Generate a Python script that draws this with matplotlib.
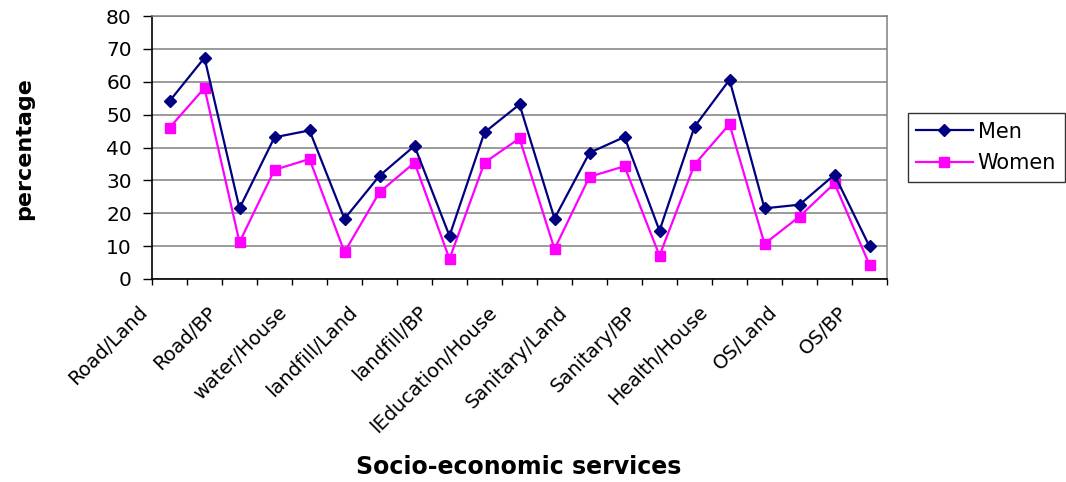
import matplotlib
matplotlib.use("Agg")
import matplotlib.pyplot as plt
import matplotlib.transforms as mtransforms

categories = ["Road/Land", "", "Road/BP", "", "water/House", "", "landfill/Land", "",
              "landfill/BP", "", "lEducation/House", "", "Sanitary/Land", "",
              "Sanitary/BP", "", "Health/House", "", "OS/Land", "", "OS/BP"]
men = [54.1, 67.3, 21.5, 43.1, 45.2, 18.3, 31.4, 40.5, 13.1, 44.6, 53.1,
       18.4, 38.4, 43.2, 14.7, 46.3, 60.6, 21.5, 22.6, 31.7, 9.9]
women = [46.0, 58.1, 11.2, 33.2, 36.5, 8.2, 26.4, 35.4, 6.1, 35.4, 42.8,
         9.1, 31.1, 34.3, 7.1, 34.8, 47.1, 10.7, 19.0, 29.1, 4.3]
yticks = [0, 10, 20, 30, 40, 50, 60, 70, 80]

plt.rcParams['font.family'] = ['DejaVu Sans']

W, H = 1066, 482
fig = plt.figure(figsize=(W / 100, H / 100), dpi=100)
ax = fig.add_axes([152 / W, 1 - 279 / H, (887 - 152) / W, (279 - 16) / H])

x = list(range(len(categories)))
ax.plot(x, men, color='#000080', lw=1.6, marker='D', ms=6.2, label='Men', zorder=4)
ax.plot(x, women, color='#FF00FF', lw=1.6, marker='s', ms=7.8, label='Women', zorder=3)

ax.set_xlim(-0.5, len(categories) - 0.5)
ax.set_ylim(0, 80)
ax.set_yticks(yticks)
ax.set_yticklabels([str(v) for v in yticks])
ax.yaxis.grid(True, color='#808080', lw=1.1)
ax.set_axisbelow(True)

for s in ['left', 'bottom']:
    ax.spines[s].set_color('black')
    ax.spines[s].set_linewidth(1.2)
for s in ['right', 'top']:
    ax.spines[s].set_color('#808080')
    ax.spines[s].set_linewidth(1.1)

ax.tick_params(axis='y', direction='out', length=6.5, width=1.0, color='black',
               labelsize=14.5, pad=8)

# tick marks at category boundaries
ax.set_xticks([i - 0.5 for i in range(len(categories) + 1)], minor=True)
ax.tick_params(axis='x', which='minor', direction='out', length=4.5, width=1.0, color='black')
label_idx = [i for i, c in enumerate(categories) if c]
ax.set_xticks(label_idx)
ax.set_xticklabels([categories[i] for i in label_idx], rotation=45, ha='right',
                   va='top', rotation_mode='anchor')
ax.tick_params(axis='x', which='major', length=0, labelsize=14, pad=17)
offset = mtransforms.ScaledTranslation(-32 / 100, 0, fig.dpi_scale_trans)
for lab in ax.get_xticklabels():
    lab.set_transform(lab.get_transform() + offset)

fig.text(24 / W, 1 - 149 / H, 'percentage', rotation=90, ha='center', va='center',
         fontsize=16, fontweight='bold')
fig.text(519 / W, 1 - 467 / H, 'Socio-economic services', ha='center', va='center',
         fontsize=17, fontweight='bold')

leg = fig.legend(loc='center left', bbox_to_anchor=(908 / W, 1 - 147.5 / H),
                 bbox_transform=fig.transFigure, fontsize=15, frameon=True,
                 fancybox=False, handlelength=2.7, handletextpad=0.25,
                 borderpad=0.4, labelspacing=0.55, borderaxespad=0)
leg.get_frame().set_edgecolor('black')
leg.get_frame().set_linewidth(1.0)

fig.savefig('out.png', dpi=100)
